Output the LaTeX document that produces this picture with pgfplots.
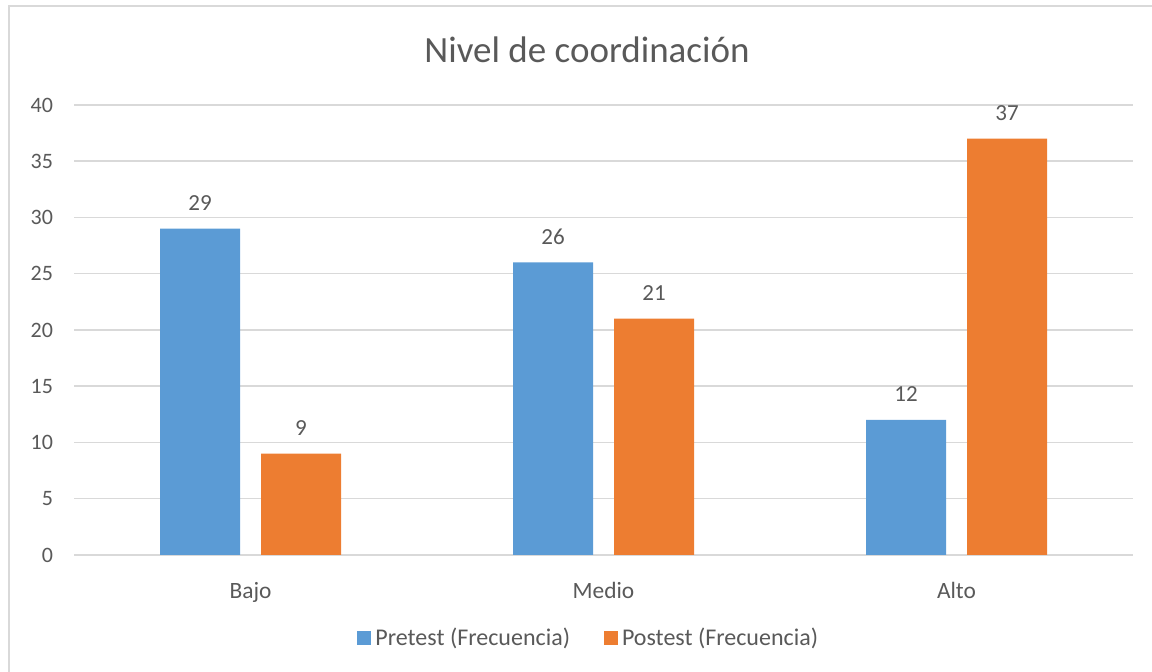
\documentclass[border=0pt]{standalone}
\usepackage{fontspec}
\setmainfont{Carlito}
\usepackage{pgfplots}
\pgfplotsset{compat=1.18}
\definecolor{pre}{HTML}{5B9BD5}
\definecolor{post}{HTML}{ED7D31}
\definecolor{gridc}{HTML}{D9D9D9}
\definecolor{txt}{HTML}{595959}

\begin{document}
\begin{tikzpicture}
\begin{scope}[x=0.5pt,y=0.5pt] % 1 px of the reference = 0.5pt
\useasboundingbox (0,0) rectangle (1152,672);
% chart frame (cut at right and bottom in the reference)
\draw[gridc, line width=0.9pt] (9,0) -- (9,666) -- (1152,666);
\node[txt, font=\fontsize{18.5}{22}\selectfont] at (587,622) {Nivel de coordinación};
\end{scope}
\begin{axis}[
  at={(37pt,58.5pt)}, anchor=south west,
  scale only axis, width=529.5pt, height=225pt,
  ybar=10.5pt, bar width=40pt,
  xmin=-0.5, xmax=2.5, ymin=0, ymax=40,
  xtick={0,1,2}, xticklabels={Bajo,Medio,Alto},
  ytick={0,5,...,40},
  ymajorgrids, grid style={gridc, line width=0.75pt},
  axis line style={draw=none}, tick style={draw=none},
  /pgf/number format/assume math mode=true,
  tick label style={font=\fontsize{11}{13}\selectfont, text=txt},
  xticklabel style={yshift=-6pt, font=\fontsize{11.7}{14}\selectfont},
  yticklabel style={xshift=-7pt},
  nodes near coords,
  every node near coord/.append style={font=\fontsize{11.5}{13}\selectfont, text=txt, yshift=5.5pt},
  legend columns=2,
  legend style={at={(0.487,-0.184)}, anchor=center, draw=none,
    font=\fontsize{12}{14}\selectfont, text=txt,
    nodes={inner sep=2pt},
    /tikz/every even column/.append style={column sep=15pt}},
]
\addplot[fill=pre, draw=none,
  legend image code/.code={\fill[pre] (0pt,-3.5pt) rectangle (7pt,3.5pt);}]
  coordinates {(0,29) (1,26) (2,12)};
\addlegendentry{Pretest (Frecuencia)}
\addplot[fill=post, draw=none,
  legend image code/.code={\fill[post] (0pt,-3.5pt) rectangle (7pt,3.5pt);}]
  coordinates {(0,9) (1,21) (2,37)};
\addlegendentry{Postest (Frecuencia)}
\end{axis}
\end{tikzpicture}
\end{document}
